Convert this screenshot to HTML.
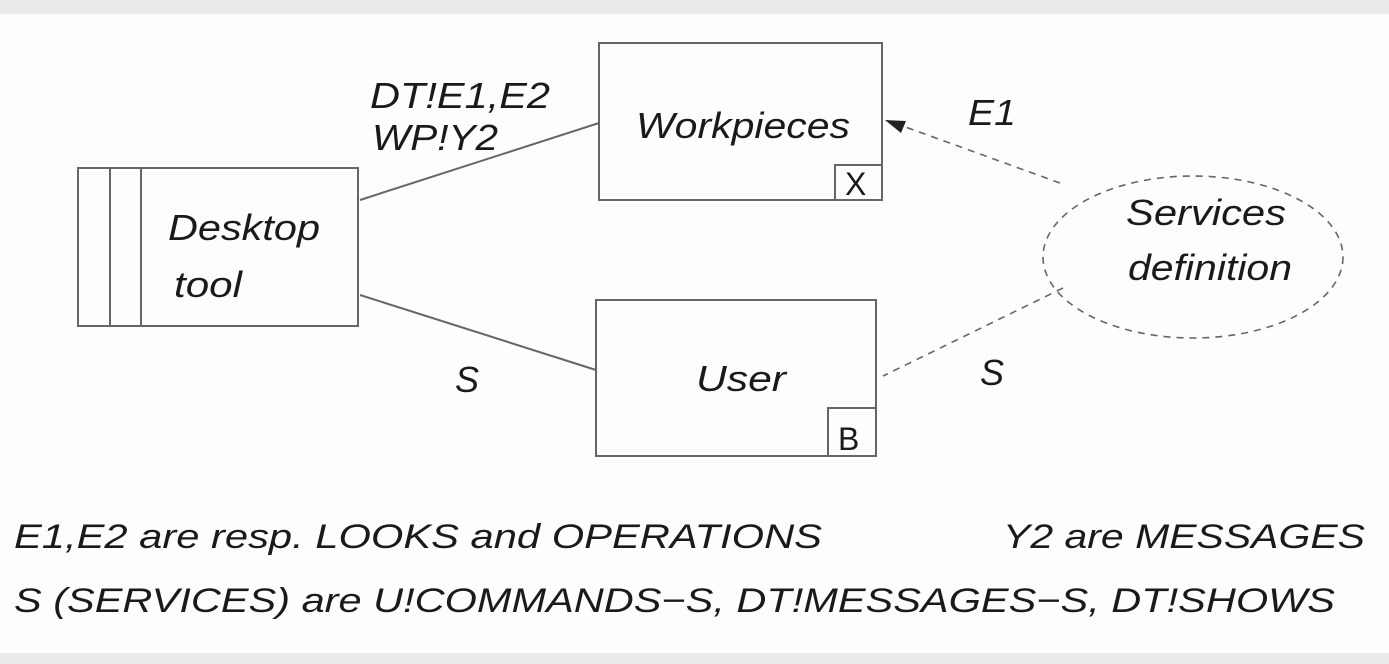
<!DOCTYPE html>
<html><head><style>
html,body{margin:0;padding:0;background:#fdfdfd;}
svg{display:block}
text{font-family:"Liberation Sans",sans-serif;font-style:italic;fill:#1a1a1a}
</style></head><body>
<svg width="1389" height="664" viewBox="0 0 1389 664">
<rect x="0" y="0" width="1389" height="664" fill="#fdfdfd"/>
<rect x="0" y="0" width="1389" height="14" fill="#ebebeb"/>
<rect x="0" y="653" width="1389" height="11" fill="#ebebeb"/>
<g fill="none" stroke="#666" stroke-width="2">
<rect x="78" y="168" width="280" height="158"/>
<line x1="110" y1="168" x2="110" y2="326"/>
<line x1="141" y1="168" x2="141" y2="326"/>
<rect x="599" y="43" width="283" height="157"/>
<rect x="835" y="165" width="47" height="35"/>
<rect x="596" y="300" width="280" height="156"/>
<rect x="828" y="408" width="48" height="48"/>
<line x1="360" y1="200" x2="599" y2="123"/>
<line x1="360" y1="295" x2="596" y2="370"/>
<g stroke-dasharray="7,6" stroke-width="1.6">
<ellipse cx="1193" cy="257" rx="150" ry="81"/>
<line x1="1060" y1="183" x2="900" y2="125"/>
<line x1="1063" y1="288" x2="883" y2="376"/>
</g>
</g>
<polygon points="885,120 906,121 901,133" fill="#222"/>
<g font-size="36" lengthAdjust="spacingAndGlyphs">
<text x="636" y="138" textLength="214" lengthAdjust="spacingAndGlyphs">Workpieces</text>
<text x="168" y="240" textLength="152" lengthAdjust="spacingAndGlyphs">Desktop</text>
<text x="174" y="297" textLength="68" lengthAdjust="spacingAndGlyphs">tool</text>
<text x="696" y="391" textLength="90" lengthAdjust="spacingAndGlyphs">User</text>
<text x="1126" y="225" textLength="160" lengthAdjust="spacingAndGlyphs">Services</text>
<text x="1128" y="280" textLength="164" lengthAdjust="spacingAndGlyphs">definition</text>
<text x="968" y="125" textLength="48" lengthAdjust="spacingAndGlyphs">E1</text>
<text x="455" y="392">S</text>
<text x="980" y="385">S</text>
<text x="370" y="108" textLength="180" lengthAdjust="spacingAndGlyphs">DT!E1,E2</text>
<text x="372" y="150" textLength="126" lengthAdjust="spacingAndGlyphs">WP!Y2</text>
</g>
<text x="845" y="195" font-size="32" style="font-style:normal">X</text>
<text x="838" y="450" font-size="32" style="font-style:normal">B</text>
<g font-size="34">
<text x="14" y="548" textLength="808" lengthAdjust="spacingAndGlyphs">E1,E2 are resp. LOOKS and OPERATIONS</text>
<text x="1003" y="548" textLength="362" lengthAdjust="spacingAndGlyphs">Y2 are MESSAGES</text>
<text x="14" y="612" textLength="1321" lengthAdjust="spacingAndGlyphs">S (SERVICES) are U!COMMANDS−S, DT!MESSAGES−S, DT!SHOWS</text>
</g>
</svg>
</body></html>
